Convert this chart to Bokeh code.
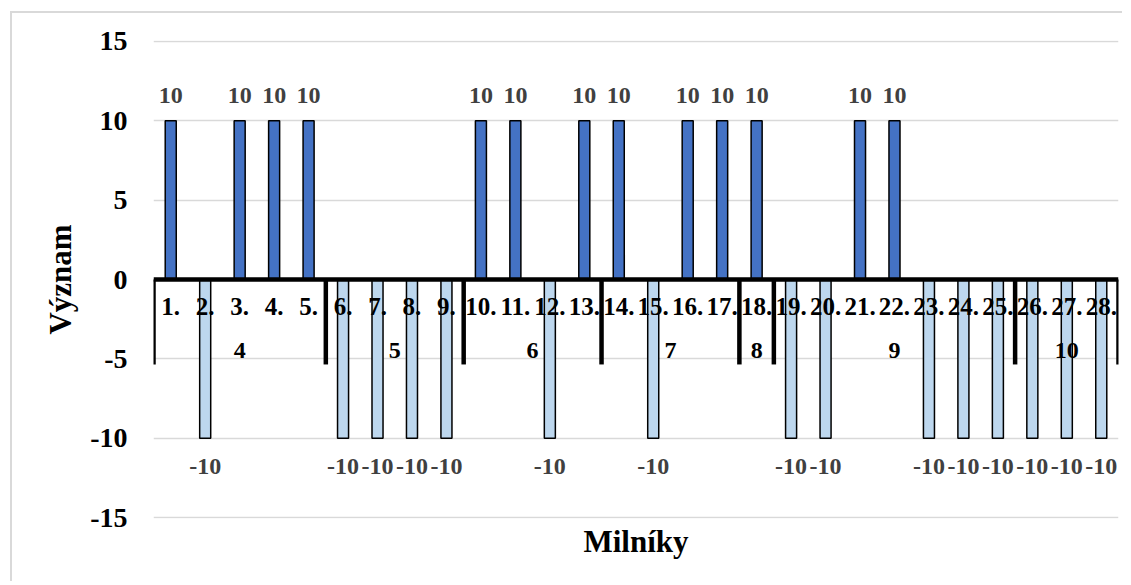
from bokeh.plotting import figure
from bokeh.models import FixedTicker
from bokeh.core.properties import value
from bokeh.embed import file_html
from bokeh.resources import INLINE

# ---- data ----
milestones = [f"{i}." for i in range(1, 29)]
values = [10, -10, 10, 10, 10, -10, -10, -10, -10, 10, 10, -10, 10, 10,
          -10, 10, 10, 10, -10, -10, 10, 10, -10, -10, -10, -10, -10, -10]
groups = ["4", "5", "6", "7", "8", "9", "10"]
group_sizes = [5, 4, 4, 4, 1, 7, 3]
y_ticks = [-15, -10, -5, 0, 5, 10, 15]

FONT = value("Liberation Serif")

xs = list(range(1, len(milestones) + 1))
pos_x = [x for x, v in zip(xs, values) if v > 0]
pos_v = [v for v in values if v > 0]
neg_x = [x for x, v in zip(xs, values) if v < 0]
neg_v = [v for v in values if v < 0]

p = figure(width=1112, height=570, output_backend="svg", toolbar_location=None,
           x_range=(0.5, len(milestones) + 0.5), y_range=(-15.05, 15.05),
           min_border_left=141, min_border_right=6, min_border_top=27, min_border_bottom=65)
p.margin = (11, 0, 0, 10)
p.styles = {"border-top": "2px solid #d9d9d9", "border-left": "2px solid #d9d9d9"}
p.outline_line_color = None
p.background_fill_color = "white"

# axes
p.yaxis.ticker = FixedTicker(ticks=y_ticks)
p.yaxis.major_label_overrides = {t: str(t) for t in y_ticks}
p.yaxis.axis_line_color = None
p.yaxis.major_tick_line_color = None
p.yaxis.minor_tick_line_color = None
p.yaxis.major_label_text_font = "Liberation Serif"
p.yaxis.major_label_text_font_style = "bold"
p.yaxis.major_label_text_font_size = "28px"
p.yaxis.major_label_text_color = "black"
p.yaxis.major_label_standoff = 20
p.yaxis.axis_label = "Význam"
p.yaxis.axis_label_text_font = "Liberation Serif"
p.yaxis.axis_label_text_font_style = "bold"
p.yaxis.axis_label_text_font_size = "31px"
p.yaxis.axis_label_text_color = "black"
p.yaxis.axis_label_standoff = 9

p.xaxis.ticker = FixedTicker(ticks=[])
p.xaxis.axis_line_color = None
p.xaxis.major_tick_line_color = None
p.xaxis.minor_tick_line_color = None
p.xaxis.axis_label = "Milníky"
p.xaxis.axis_label_text_font = "Liberation Serif"
p.xaxis.axis_label_text_font_style = "bold"
p.xaxis.axis_label_text_font_size = "31px"
p.xaxis.axis_label_text_color = "black"
p.xaxis.axis_label_standoff = 5

p.xgrid.visible = False
p.ygrid.ticker = FixedTicker(ticks=y_ticks)
p.ygrid.grid_line_color = "#d9d9d9"
p.ygrid.grid_line_width = 1.5

# bars
p.vbar(x=pos_x, top=pos_v, bottom=0, width=0.32, fill_color="#4472C4",
       line_color="black", line_width=1.5)
p.vbar(x=neg_x, top=0, bottom=neg_v, width=0.32, fill_color="#BDD7EE",
       line_color="black", line_width=1.5)

# category axis line and group separators
starts = []
s = 0.5
for n in group_sizes:
    starts.append(s)
    s += n
bounds = starts + [s]
p.segment(x0=[0.5], y0=[0], x1=[len(xs) + 0.5], y1=[0], line_color="black", line_width=4.5)
p.segment(x0=bounds, y0=[0] * len(bounds), x1=bounds, y1=[-5.35] * len(bounds),
          line_color="black", line_width=4.5)

# category labels
p.text(x=xs, y=[-1.7] * len(xs), text=milestones, text_font=FONT,
       text_font_style="bold", text_font_size="25px", text_color="black",
       text_align="center", text_baseline="middle")

# group labels
centers = [st + n / 2 for st, n in zip(starts, group_sizes)]
p.text(x=centers, y=[-4.5] * len(groups), text=groups, text_font=FONT,
       text_font_style="bold", text_font_size="24px", text_color="black",
       text_align="center", text_baseline="middle")

# data labels
p.text(x=pos_x, y=[11.6] * len(pos_x), text=[str(v) for v in pos_v], text_font=FONT,
       text_font_style="bold", text_font_size="24px", text_color="#404040",
       text_align="center", text_baseline="middle")
p.text(x=neg_x, y=[-11.8] * len(neg_x), text=[str(v) for v in neg_v], text_font=FONT,
       text_font_style="bold", text_font_size="24px", text_color="#404040",
       text_align="center", text_baseline="middle")

open("out.html", "w").write(file_html(p, INLINE))
